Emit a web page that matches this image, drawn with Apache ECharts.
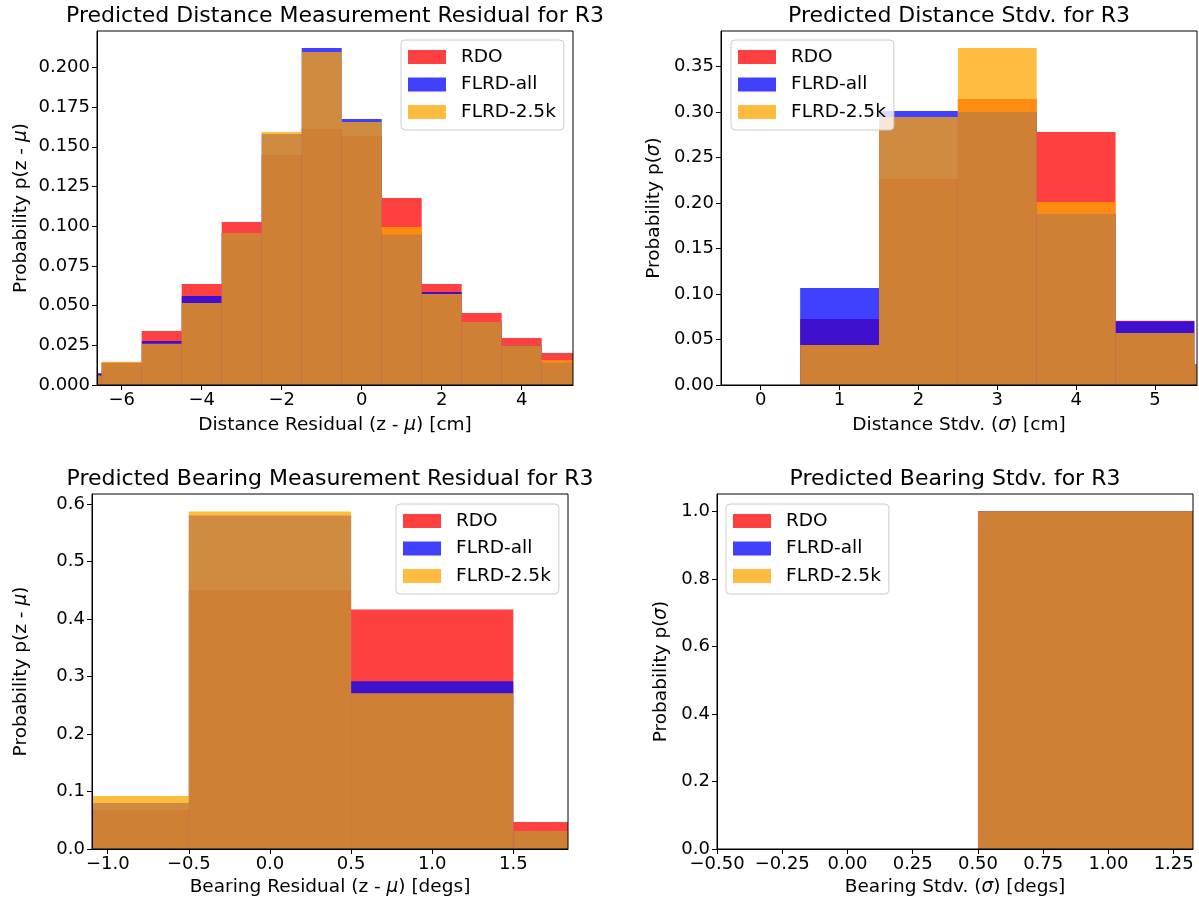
<!DOCTYPE html>
<html>
<head>
<meta charset="utf-8">
<script src="https://cdn.jsdelivr.net/npm/echarts@6/dist/echarts.min.js"></script>
<style>
  html, body { margin: 0; padding: 0; background: #fff; }
  #chart { width: 1199px; height: 905px; }
</style>
</head>
<body>
<div id="chart"></div>
<script>
const seriesNames = ['RDO', 'FLRD-all', 'FLRD-2.5k']

// top-left: distance residual
const distResEdges = [-7.5, -6.5, -5.5, -4.5, -3.5, -2.5, -1.5, -0.5, 0.5, 1.5, 2.5, 3.5, 4.5, 5.5]
const distResRdo = [0.007, 0.014, 0.034, 0.0636, 0.1026, 0.1448, 0.1612, 0.1568, 0.1178, 0.0636, 0.0453, 0.0296, 0.0202]
const distResAll = [0.0075, 0.014, 0.0277, 0.056, 0.0957, 0.158, 0.2122, 0.1675, 0.0947, 0.0586, 0.0397, 0.0248, 0.0141]
const distRes25k = [0.006, 0.0147, 0.026, 0.0516, 0.0957, 0.1593, 0.2097, 0.1656, 0.0995, 0.0573, 0.0397, 0.0248, 0.0157]
const distResXTicks = [-6, -4, -2, 0, 2, 4]
const distResYTicks = [0, 0.025, 0.05, 0.075, 0.1, 0.125, 0.15, 0.175, 0.2]

// top-right: distance stdv
const distStdEdges = [-0.5, 0.5, 1.5, 2.5, 3.5, 4.5, 5.5, 6.5]
const distStdRdo = [0, 0.0726, 0.2265, 0.3145, 0.2782, 0.0707, 0.023]
const distStdAll = [0, 0.1067, 0.3013, 0.3002, 0.188, 0.07, 0.023]
const distStd25k = [0, 0.044, 0.2947, 0.3706, 0.2012, 0.0572, 0.023]
const distStdXTicks = [0, 1, 2, 3, 4, 5]
const distStdYTicks = [0, 0.05, 0.1, 0.15, 0.2, 0.25, 0.3, 0.35]

// bottom-left: bearing residual
const bearResEdges = [-1.5, -0.5, 0.5, 1.5, 2.5]
const bearResRdo = [0.0677, 0.4502, 0.4167, 0.0469]
const bearResAll = [0.0799, 0.5799, 0.2917, 0.0312]
const bearRes25k = [0.092, 0.5868, 0.2708, 0.0312]
const bearResXTicks = [-1.0, -0.5, 0.0, 0.5, 1.0, 1.5]
const bearResYTicks = [0, 0.1, 0.2, 0.3, 0.4, 0.5, 0.6]

// bottom-right: bearing stdv
const bearStdEdges = [0.5, 1.5]
const bearStdRdo = [1.0]
const bearStdAll = [1.0]
const bearStd25k = [1.0]
const bearStdXTicks = [-0.5, -0.25, 0, 0.25, 0.5, 0.75, 1.0, 1.25]
const bearStdYTicks = [0, 0.2, 0.4, 0.6, 0.8, 1.0]

const colors = ['rgba(255,0,0,0.75)', 'rgba(0,0,255,0.75)', 'rgba(255,165,0,0.75)']
const font = 'DejaVu Sans'
const rich = { i: { fontStyle: 'italic', fontFamily: font, fontSize: 18.5, color: '#000' } }

const panels = [
  {
    title: 'Predicted Distance Measurement Residual for R3',
    grid: { left: 97, top: 31, width: 476, height: 354 },
    x: [-6.6175, 5.2825], y: [0, 0.2229],
    xTicks: distResXTicks, yTicks: distResYTicks,
    xFmt: v => String(v).replace('-', '\u2212'), yFmt: v => v.toFixed(3),
    xName: 'Distance Residual (z - {i|μ}) [cm]', yName: 'Probability p(z - {i|μ})', xGap: 31, yGap: 66,
    edges: distResEdges, data: [distResRdo, distResAll, distRes25k],
    legend: { left: 401, top: 40 }
  },
  {
    title: 'Predicted Distance Stdv. for R3',
    grid: { left: 721, top: 31, width: 476, height: 354 },
    x: [-0.504, 5.533], y: [0, 0.3893],
    xTicks: distStdXTicks, yTicks: distStdYTicks,
    xFmt: v => String(v), yFmt: v => v.toFixed(2),
    xName: 'Distance Stdv. ({i|σ}) [cm]', yName: 'Probability p({i|σ})', xGap: 31, yGap: 57,
    edges: distStdEdges, data: [distStdRdo, distStdAll, distStd25k],
    legend: { left: 731, top: 40 }
  },
  {
    title: 'Predicted Bearing Measurement Residual for R3',
    grid: { left: 92, top: 494, width: 476, height: 355 },
    x: [-1.097, 1.837], y: [0, 0.6174],
    xTicks: bearResXTicks, yTicks: bearResYTicks,
    xFmt: v => v.toFixed(1).replace('-', '\u2212'), yFmt: v => v.toFixed(1),
    xName: 'Bearing Residual (z - {i|μ}) [degs]', yName: 'Probability p(z - {i|μ})', xGap: 29, yGap: 61,
    edges: bearResEdges, data: [bearResRdo, bearResAll, bearRes25k],
    legend: { left: 396, top: 504 }
  },
  {
    title: 'Predicted Bearing Stdv. for R3',
    grid: { left: 717, top: 494, width: 476, height: 355 },
    x: [-0.5, 1.324], y: [0, 1.0512],
    xTicks: bearStdXTicks, yTicks: bearStdYTicks,
    xFmt: v => v.toFixed(2).replace('-', '\u2212'), yFmt: v => v.toFixed(1),
    xName: 'Bearing Stdv. ({i|σ}) [degs]', yName: 'Probability p({i|σ})', xGap: 29, yGap: 46,
    edges: bearStdEdges, data: [bearStdRdo, bearStdAll, bearStd25k],
    legend: { left: 726, top: 504 }
  }
]

function renderBin(params, api) {
  const p0 = api.coord([api.value(0), api.value(2)])
  const p1 = api.coord([api.value(1), 0])
  const shape = echarts.graphic.clipRectByRect(
    { x: p0[0], y: p0[1], width: p1[0] - p0[0], height: p1[1] - p0[1] },
    { x: params.coordSys.x, y: params.coordSys.y, width: params.coordSys.width, height: params.coordSys.height }
  )
  return shape && { type: 'rect', shape: shape, style: api.style() }
}

const chart = echarts.init(document.getElementById('chart'))
const option = {
  animation: false,
  backgroundColor: '#fff',
  title: [], grid: [], xAxis: [], yAxis: [], legend: [], series: []
}

panels.forEach((p, k) => {
  option.title.push({
    text: p.title,
    left: p.grid.left + p.grid.width / 2,
    top: p.grid.top - 26,
    textAlign: 'center',
    padding: 0,
    textStyle: { fontFamily: font, fontSize: 22, fontWeight: 'normal', color: '#000' }
  })
  // spines drawn above the bars, like matplotlib
  option.grid.push(Object.assign({ show: true, z: 3, borderColor: '#000', borderWidth: 1, backgroundColor: 'transparent' }, p.grid))
  option.xAxis.push({
    type: 'value', gridIndex: k, min: p.x[0], max: p.x[1], z: 3,
    name: p.xName, nameLocation: 'middle', nameGap: p.xGap,
    nameTextStyle: { fontFamily: font, fontSize: 18.5, color: '#000', rich: rich },
    axisLine: { show: true, onZero: false, lineStyle: { color: '#000', width: 1 } },
    axisTick: { show: true, customValues: p.xTicks, length: 5, lineStyle: { color: '#000' } },
    axisLabel: { customValues: p.xTicks, formatter: p.xFmt, fontFamily: font, fontSize: 18, color: '#000', margin: 6 },
    splitLine: { show: false }
  })
  option.yAxis.push({
    type: 'value', gridIndex: k, min: p.y[0], max: p.y[1], z: 3,
    name: p.yName, nameLocation: 'middle', nameGap: p.yGap, nameRotate: 90,
    nameTextStyle: { fontFamily: font, fontSize: 18.5, color: '#000', rich: rich },
    axisLine: { show: true, onZero: false, lineStyle: { color: '#000', width: 1 } },
    axisTick: { show: true, customValues: p.yTicks, length: 5, lineStyle: { color: '#000' } },
    axisLabel: { customValues: p.yTicks, formatter: p.yFmt, fontFamily: font, fontSize: 18, color: '#000', margin: 7 },
    splitLine: { show: false }
  })
  option.legend.push({
    left: p.legend.left, top: p.legend.top, orient: 'vertical', z: 5,
    data: seriesNames, icon: 'rect', itemWidth: 38, itemHeight: 14, itemGap: 7.5,
    padding: [7, 8, 8, 7],
    backgroundColor: 'rgba(255,255,255,0.8)', borderColor: '#ccc', borderWidth: 1, borderRadius: 4,
    textStyle: { fontFamily: font, fontSize: 18.5, color: '#000', padding: [0, 0, 0, 10], lineHeight: 20 },
    selectedMode: false
  })
  seriesNames.forEach((name, s) => {
    const vals = p.data[s]
    option.series.push({
      name: name, type: 'custom', xAxisIndex: k, yAxisIndex: k,
      renderItem: renderBin,
      itemStyle: { color: colors[s] },
      encode: { x: [0, 1], y: 2 },
      data: vals.map((v, i) => [p.edges[i], p.edges[i + 1], v])
    })
  })
})

chart.setOption(option)
</script>
</body>
</html>
